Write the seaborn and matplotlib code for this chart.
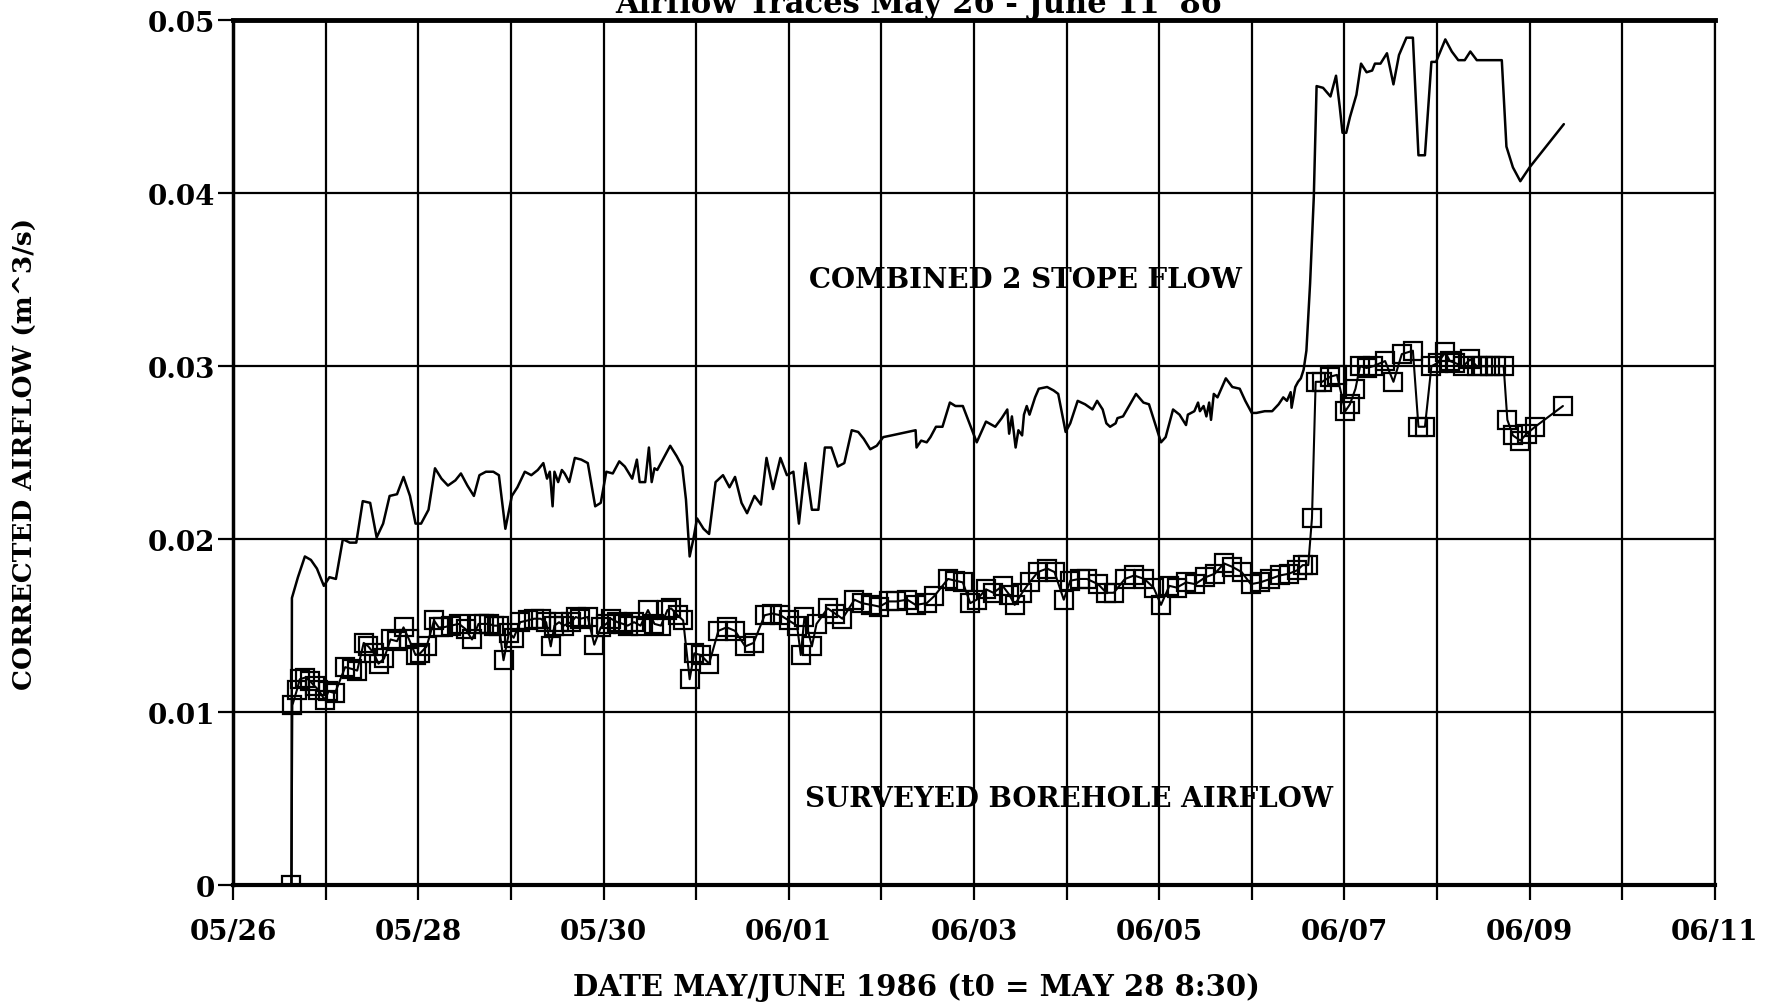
import matplotlib
matplotlib.use("Agg")
import matplotlib.pyplot as plt
import seaborn as sns
import numpy as np
import pandas as pd

# ---------------- data (days since 05/26 00:00, m^3/s) ----------------
stope_days = [0.63, 0.635, 0.70, 0.775, 0.84, 0.905, 0.98, 1.04, 1.11, 1.185, 1.26, 1.33, 1.40, 1.48,
              1.55, 1.62, 1.69, 1.77, 1.84, 1.91, 1.97, 2.03, 2.11, 2.18, 2.25, 2.32, 2.40, 2.46,
              2.53, 2.60, 2.66, 2.73, 2.81, 2.87, 2.94, 3.01, 3.07, 3.15, 3.22, 3.29, 3.35, 3.39,
              3.42, 3.45, 3.47, 3.51, 3.55, 3.58, 3.63, 3.69, 3.76, 3.83, 3.91, 3.97, 4.03, 4.10,
              4.17, 4.23, 4.31, 4.36, 4.39, 4.45, 4.49, 4.52, 4.55, 4.58, 4.65, 4.72, 4.79, 4.85,
              4.89, 4.93, 4.97, 5.01, 5.08, 5.14, 5.21, 5.29, 5.36, 5.42, 5.49, 5.55, 5.63, 5.70,
              5.76, 5.83, 5.91, 5.98, 6.05, 6.11, 6.18, 6.25, 6.32, 6.39, 6.46, 6.53, 6.60, 6.68,
              6.75, 6.81, 6.88, 6.95, 7.02, 7.11, 7.37, 7.38, 7.43, 7.49, 7.53, 7.59, 7.66, 7.74,
              7.80, 7.88, 8.03, 8.13, 8.23, 8.30, 8.36, 8.38, 8.41, 8.45, 8.48, 8.52, 8.54, 8.57,
              8.60, 8.66, 8.70, 8.79, 8.86, 8.91, 8.99, 9.04, 9.12, 9.20, 9.28, 9.33, 9.39, 9.43,
              9.47, 9.53, 9.55, 9.61, 9.75, 9.83, 9.89, 10.02, 10.07, 10.15, 10.22, 10.29, 10.31,
              10.38, 10.42, 10.44, 10.48, 10.51, 10.54, 10.56, 10.59, 10.63, 10.72, 10.79, 10.87,
              10.93, 11.00, 11.05, 11.14, 11.22, 11.29, 11.34, 11.38, 11.42, 11.43, 11.47, 11.50,
              11.53, 11.56, 11.59, 11.63, 11.67, 11.70, 11.77, 11.85, 11.91, 11.95, 11.98, 12.02,
              12.06, 12.13, 12.18, 12.24, 12.30, 12.33, 12.39, 12.46, 12.53, 12.59, 12.67, 12.74,
              12.80, 12.87, 12.94, 12.99, 13.09, 13.16, 13.23, 13.30, 13.36, 13.43, 13.70, 13.75,
              13.82, 13.90, 14.00, 14.37]
stope_flow = [0.0, 0.0166, 0.0178, 0.0190, 0.0188, 0.0183, 0.0173, 0.0178, 0.0177, 0.0200, 0.0198,
              0.0198, 0.0222, 0.0221, 0.0201, 0.0209, 0.0225, 0.0226, 0.0236, 0.0225, 0.0209, 0.0209,
              0.0217, 0.0241, 0.0235, 0.0231, 0.0234, 0.0238, 0.0231, 0.0225, 0.0237, 0.0239, 0.0239,
              0.0237, 0.0206, 0.0225, 0.0230, 0.0239, 0.0237, 0.0240, 0.0244, 0.0235, 0.0239, 0.0219,
              0.0239, 0.0233, 0.0240, 0.0238, 0.0233, 0.0247, 0.0246, 0.0244, 0.0219, 0.0221, 0.0239,
              0.0238, 0.0245, 0.0242, 0.0235, 0.0246, 0.0233, 0.0233, 0.0253, 0.0233, 0.0241, 0.0240,
              0.0247, 0.0254, 0.0248, 0.0242, 0.0223, 0.0190, 0.0200, 0.0212, 0.0206, 0.0203, 0.0233,
              0.0237, 0.0230, 0.0236, 0.0221, 0.0215, 0.0225, 0.0220, 0.0247, 0.0229, 0.0247, 0.0237,
              0.0239, 0.0209, 0.0244, 0.0217, 0.0217, 0.0253, 0.0253, 0.0242, 0.0244, 0.0263, 0.0262,
              0.0258, 0.0252, 0.0254, 0.0259, 0.0260, 0.0263, 0.0253, 0.0257, 0.0256, 0.0259, 0.0265,
              0.0265, 0.0279, 0.0277, 0.0277, 0.0256, 0.0268, 0.0265, 0.0270, 0.0275, 0.0261, 0.0271,
              0.0253, 0.0263, 0.0260, 0.0272, 0.0277, 0.0272, 0.0282, 0.0287, 0.0288, 0.0286, 0.0284,
              0.0262, 0.0267, 0.0280, 0.0278, 0.0275, 0.0280, 0.0275, 0.0267, 0.0265, 0.0267, 0.0270,
              0.0271, 0.0284, 0.0279, 0.0278, 0.0256, 0.0259, 0.0275, 0.0272, 0.0266, 0.0272, 0.0274,
              0.0279, 0.0274, 0.0277, 0.0271, 0.0279, 0.0269, 0.0284, 0.0282, 0.0293, 0.0288, 0.0287,
              0.0280, 0.0273, 0.0273, 0.0274, 0.0274, 0.0278, 0.0282, 0.0280, 0.0285, 0.0276, 0.0288,
              0.0291, 0.0293, 0.0298, 0.0309, 0.0348, 0.0398, 0.0462, 0.0461, 0.0456, 0.0468, 0.0450,
              0.0435, 0.0435, 0.0444, 0.0457, 0.0475, 0.0470, 0.0471, 0.0475, 0.0475, 0.0481, 0.0463,
              0.0480, 0.0490, 0.0490, 0.0422, 0.0422, 0.0476, 0.0476, 0.0489, 0.0482, 0.0477, 0.0477,
              0.0482, 0.0477, 0.0477, 0.0427, 0.0415, 0.0407, 0.0415, 0.0440]

bore_days = [0.63, 0.64, 0.69, 0.72, 0.78, 0.83, 0.88, 0.92, 0.99, 1.03, 1.10, 1.21, 1.28, 1.34,
             1.41, 1.46, 1.52, 1.57, 1.63, 1.70, 1.77, 1.84, 1.90, 1.97, 2.02, 2.09, 2.17, 2.22,
             2.27, 2.35, 2.44, 2.51, 2.58, 2.65, 2.71, 2.76, 2.82, 2.87, 2.92, 2.98, 3.03, 3.10,
             3.18, 3.25, 3.32, 3.38, 3.43, 3.47, 3.52, 3.57, 3.65, 3.70, 3.75, 3.83, 3.90, 3.97,
             4.03, 4.08, 4.15, 4.21, 4.26, 4.33, 4.40, 4.48, 4.55, 4.62, 4.69, 4.73, 4.80, 4.86,
             4.93, 4.98, 5.05, 5.14, 5.24, 5.33, 5.42, 5.53, 5.62, 5.74, 5.82, 5.91, 6.00, 6.09,
             6.13, 6.17, 6.25, 6.30, 6.42, 6.50, 6.58, 6.71, 6.79, 6.89, 6.98, 7.08, 7.16, 7.28,
             7.37, 7.49, 7.57, 7.72, 7.80, 7.88, 7.96, 8.03, 8.13, 8.21, 8.31, 8.38, 8.44, 8.52,
             8.60, 8.69, 8.79, 8.87, 8.97, 9.04, 9.14, 9.22, 9.34, 9.43, 9.51, 9.63, 9.73, 9.84,
             9.94, 10.02, 10.11, 10.19, 10.29, 10.39, 10.50, 10.60, 10.70, 10.79, 10.89, 10.99,
             11.09, 11.20, 11.30, 11.40, 11.49, 11.55, 11.61, 11.65, 11.69, 11.76, 11.85, 11.92,
             12.01, 12.06, 12.12, 12.17, 12.24, 12.31, 12.44, 12.53, 12.62, 12.74, 12.80, 12.87,
             12.94, 13.01, 13.09, 13.14, 13.19, 13.28, 13.36, 13.43, 13.50, 13.57, 13.64, 13.72,
             13.76, 13.82, 13.90, 13.97, 14.06, 14.36]
bore_flow = [0.0, 0.0104, 0.0113, 0.0119, 0.0120, 0.0118, 0.0115, 0.0113, 0.0107, 0.0112, 0.0111,
             0.0126, 0.0125, 0.0124, 0.0140, 0.0138, 0.0134, 0.0128, 0.0131, 0.0142, 0.0141, 0.0149,
             0.0142, 0.0133, 0.0134, 0.0138, 0.0153, 0.0149, 0.0149, 0.0150, 0.0151, 0.0148, 0.0142,
             0.0151, 0.0151, 0.0151, 0.0150, 0.0150, 0.0130, 0.0146, 0.0143, 0.0152, 0.0153, 0.0154,
             0.0154, 0.0152, 0.0138, 0.0150, 0.0152, 0.0150, 0.0152, 0.0155, 0.0154, 0.0155, 0.0139,
             0.0149, 0.0151, 0.0154, 0.0152, 0.0151, 0.0150, 0.0152, 0.0150, 0.0159, 0.0151, 0.0150,
             0.0159, 0.0160, 0.0156, 0.0153, 0.0119, 0.0134, 0.0133, 0.0128, 0.0147, 0.0149, 0.0147,
             0.0138, 0.0140, 0.0156, 0.0157, 0.0156, 0.0153, 0.0150, 0.0133, 0.0155, 0.0138, 0.0151,
             0.0160, 0.0157, 0.0154, 0.0165, 0.0163, 0.0162, 0.0161, 0.0164, 0.0164, 0.0165, 0.0162,
             0.0163, 0.0167, 0.0177, 0.0176, 0.0175, 0.0163, 0.0165, 0.0171, 0.0169, 0.0173, 0.0168,
             0.0162, 0.0169, 0.0175, 0.0181, 0.0183, 0.0181, 0.0165, 0.0176, 0.0177, 0.0177, 0.0174,
             0.0169, 0.0169, 0.0177, 0.0179, 0.0177, 0.0172, 0.0162, 0.0173, 0.0172, 0.0175, 0.0174,
             0.0178, 0.0180, 0.0186, 0.0184, 0.0181, 0.0174, 0.0175, 0.0177, 0.0179, 0.0180, 0.0182,
             0.0185, 0.0185, 0.0212, 0.0291, 0.0291, 0.0294, 0.0295, 0.0274, 0.0278, 0.0287, 0.0300,
             0.0299, 0.0300, 0.0303, 0.0291, 0.0307, 0.0309, 0.0265, 0.0265, 0.0300, 0.0302, 0.0308,
             0.0303, 0.0302, 0.0300, 0.0304, 0.0300, 0.0300, 0.0300, 0.0300, 0.0300, 0.0269, 0.0260,
             0.0257, 0.0261, 0.0265, 0.0277]

x_tick_labels = ["05/26", "05/28", "05/30", "06/01", "06/03", "06/05", "06/07", "06/09", "06/11"]
y_tick_values = [0, 0.01, 0.02, 0.03, 0.04, 0.05]
y_tick_labels = ["0", "0.01", "0.02", "0.03", "0.04", "0.05"]

title_text = "Airflow Traces May 26 - June 11 '86"
x_label = "DATE MAY/JUNE 1986 (t0 = MAY 28 8:30)"
y_label = "CORRECTED AIRFLOW (m^3/s)"
label_stope = "COMBINED 2 STOPE FLOW"
label_bore = "SURVEYED BOREHOLE AIRFLOW"

# ---------------- plotting ----------------
sns.set_theme(style="white")
plt.rcParams["font.family"] = ["DejaVu Serif", "DejaVu Sans"]
plt.rcParams["font.weight"] = "bold"
plt.rcParams["text.color"] = "black"
plt.rcParams["axes.labelcolor"] = "black"
plt.rcParams["xtick.color"] = "black"
plt.rcParams["ytick.color"] = "black"

fig = plt.figure(figsize=(17.66, 10.04), dpi=100)
ax = fig.add_axes([0.132, 0.1175, 0.839, 0.8612])

stope_df = pd.DataFrame({"day": stope_days, "flow": stope_flow})
bore_df = pd.DataFrame({"day": bore_days, "flow": bore_flow})

sns.lineplot(data=stope_df, x="day", y="flow", ax=ax, color="black", lw=1.8,
             estimator=None, sort=False, zorder=3)
sns.lineplot(data=bore_df, x="day", y="flow", ax=ax, color="black", lw=1.5,
             estimator=None, sort=False, marker="s", markersize=12.5,
             markerfacecolor="none", markeredgecolor="black", markeredgewidth=1.6, zorder=3)

ax.set_xlim(0, 16)
ax.set_ylim(0, 0.05)
ax.set_xticks(np.arange(0, 17, 2))
ax.set_xticks(np.arange(1, 16, 2), minor=True)
ax.set_xticklabels(x_tick_labels)
ax.set_yticks(y_tick_values)
ax.set_yticklabels(y_tick_labels)

ax.grid(True, which="both", color="black", lw=1.6)
ax.tick_params(axis="both", which="both", direction="out", length=11, width=1.6,
               color="black", labelcolor="black", labelsize=20)
ax.tick_params(axis="x", which="both", bottom=True, pad=13)
ax.tick_params(axis="y", which="both", left=True, pad=2)
for lab in ax.get_xticklabels() + ax.get_yticklabels():
    lab.set_fontweight("bold")

for side, w in [("top", 3.5), ("left", 2.5), ("bottom", 3.0), ("right", 1.6)]:
    ax.spines[side].set_visible(True)
    ax.spines[side].set_color("black")
    ax.spines[side].set_linewidth(w)

ax.set_xlabel(x_label, fontsize=21, fontweight="bold", color="black")
ax.set_ylabel(y_label, fontsize=19, fontweight="bold", color="black")
ax.xaxis.label.set_verticalalignment("center")
ax.yaxis.label.set_verticalalignment("center")
ax.xaxis.set_label_coords(0.461, -0.117)
ax.yaxis.set_label_coords(-0.140, 0.5)

ax.text(8.56, 0.0350, label_stope, fontsize=20, fontweight="bold", ha="center", va="center",
        color="black", zorder=2)
ax.text(9.03, 0.0050, label_bore, fontsize=20, fontweight="bold", ha="center", va="center",
        color="black", zorder=2)

fig.text(0.520, 0.996, title_text, fontsize=22, fontweight="bold", ha="center", va="center",
         color="black")

fig.savefig("out.png", dpi=100, facecolor="white")
